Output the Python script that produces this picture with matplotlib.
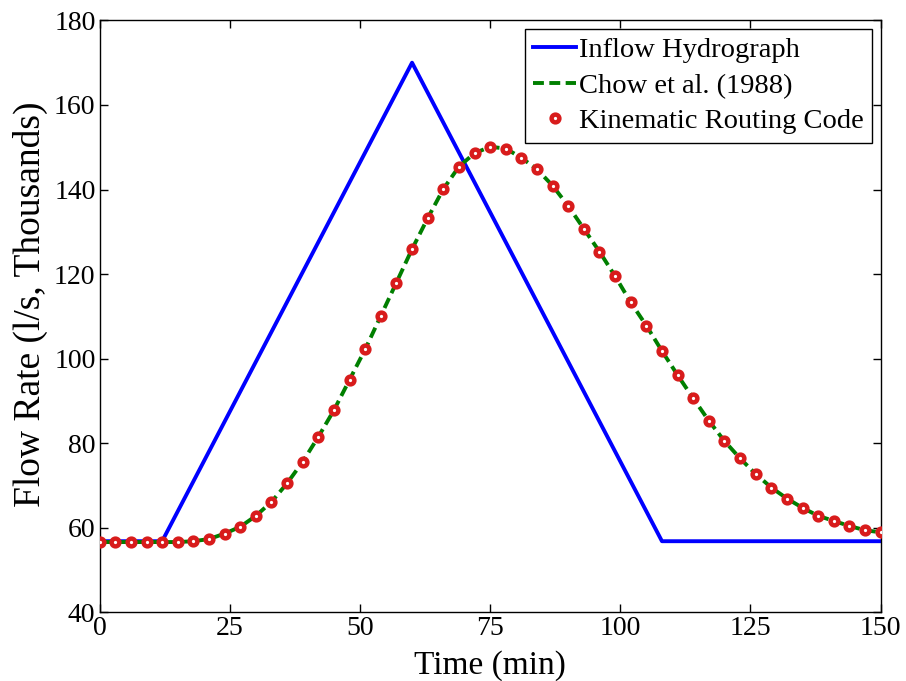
import numpy as np
import matplotlib
matplotlib.use("Agg")
import matplotlib.pyplot as plt

# inflow hydrograph (triangular), time in min, flow in 1000 l/s
inflow_time = [0, 12, 60, 108, 150]
inflow_flow = [56.8, 56.8, 170.0, 56.8, 56.8]

# routed outflow, every 3 min from 0 to 150
routed_time = list(range(0, 151, 3))
routed_flow = [56.6, 56.6, 56.6, 56.6, 56.6, 56.6, 56.8, 57.3, 58.6, 60.2,
               62.8, 66.1, 70.5, 75.6, 81.5, 87.8, 95.0, 102.2, 110.1, 118.0,
               125.9, 133.2, 140.1, 145.4, 148.6, 150.1, 149.7, 147.5, 144.8, 140.9,
               136.1, 130.7, 125.3, 119.5, 113.3, 107.8, 101.8, 96.1, 90.6, 85.3,
               80.5, 76.4, 72.7, 69.5, 66.9, 64.7, 62.8, 61.6, 60.4, 59.4,
               58.9]
# Chow et al. (1988) analytical solution lies on the same curve
chow_time = routed_time
chow_flow = routed_flow

plt.rcParams['font.family'] = ['Liberation Serif', 'DejaVu Serif']

fig = plt.figure(figsize=(9.06, 6.81), dpi=100)
ax = fig.add_axes([0.110, 0.101, 0.862, 0.869])

ax.plot(inflow_time, inflow_flow, color='#0000ff', lw=2.8,
        label='Inflow Hydrograph', zorder=2)
ax.plot(chow_time, chow_flow, color='#007f00', lw=2.8, ls=(0, (2.8, 1.4)),
        label='Chow et al. (1988)', zorder=3)
ax.plot(routed_time, routed_flow, ls='none', marker='o', ms=5.6,
        mfc='white', mec='#d81c1c', mew=3.2,
        label='Kinematic Routing Code', zorder=4)

ax.set_xlim(0, 150)
ax.set_ylim(40, 180)
ax.set_xticks(np.arange(0, 151, 25))
ax.set_yticks(np.arange(40, 181, 20))
ax.tick_params(direction='in', length=6, width=1, top=True, right=True,
               labelsize=20, pad=3)
for s in ax.spines.values():
    s.set_linewidth(1.0)

ax.set_xlabel('Time (min)', fontsize=24, labelpad=6)
ax.set_ylabel('Flow Rate (l/s, Thousands)', fontsize=27, labelpad=4)
ax.yaxis.set_label_coords(-0.066, 0.52)

leg = ax.legend(loc='upper right', fontsize=20.5, frameon=True, fancybox=False,
                edgecolor='black', framealpha=1, borderaxespad=0.3,
                handlelength=1.5, handletextpad=0.1, borderpad=0.3,
                labelspacing=0.33)
leg.get_frame().set_linewidth(1.0)

fig.savefig('out.png', dpi=100)
